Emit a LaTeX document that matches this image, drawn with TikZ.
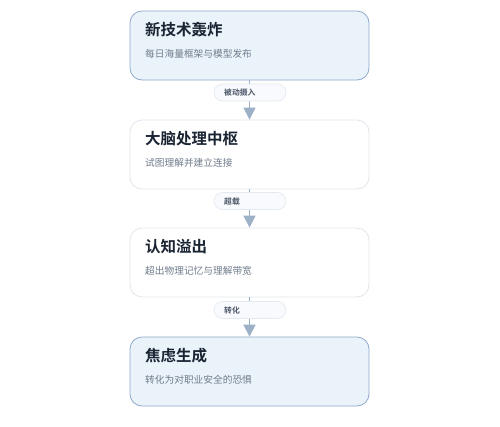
\documentclass[tikz,border=0pt]{standalone}
\usepackage{fontspec}
\setmainfont{Noto Sans CJK SC}
\newfontfamily\cjk{Noto Sans CJK SC}
\newfontfamily\cjkb{Noto Sans CJK SC Bold}
\usetikzlibrary{arrows.meta}
\definecolor{hlfill}{HTML}{EAF2FA}
\definecolor{hlbord}{HTML}{8FAACB}
\definecolor{plbord}{HTML}{E0E6ED}
\definecolor{titlec}{HTML}{1A2433}
\definecolor{subc}{HTML}{707C8C}
\definecolor{arrc}{HTML}{9CB0C8}
\definecolor{pillb}{HTML}{E3E9F0}
\definecolor{pillf}{HTML}{F8FAFD}
\definecolor{labc}{HTML}{4A5566}
\tikzset{
  card/.style={rounded corners=12pt, minimum width=239pt, minimum height=69pt, inner sep=0pt, line width=0.8pt},
  hl/.style={card, draw=hlbord, fill=hlfill},
  pl/.style={card, draw=plbord, fill=white},
  ttl/.style={anchor=west, inner sep=0pt, font=\cjkb\fontsize{15.5}{16}\selectfont, text=titlec},
  sub/.style={anchor=west, inner sep=0pt, font=\cjk\fontsize{9.7}{10}\selectfont, text=subc},
  pill/.style={rounded corners=8.5pt, draw=pillb, fill=pillf, line width=0.6pt, minimum width=72pt, minimum height=17pt, inner sep=0pt},
  plab/.style={anchor=west, inner sep=0pt, font=\cjkb\fontsize{7.8}{8}\selectfont, text=labc},
  conn/.style={draw=arrc, line width=1.2pt, -{Triangle[length=12pt, width=12pt]}},
}
\begin{document}
\begin{tikzpicture}[x=1pt, y=-1pt]
\useasboundingbox (0,0) rectangle (500,426);
\fill[white] (0,0) rectangle (500,426);
% cards
\node[hl] (c1) at (249.5,45.5) {};
\node[pl] (c2) at (249.5,154.5) {};
\node[pl] (c3) at (249.5,262.5) {};
\node[hl] (c4) at (249.5,371.5) {};
% connectors
\draw[conn] (c1.south) -- (c2.north);
\draw[conn] (c2.south) -- (c3.north);
\draw[conn] (c3.south) -- (c4.north);
% pills
\node[pill] (p1) at (250,92.5) {};
\node[pill] (p2) at (250,201) {};
\node[pill] (p3) at (250,310) {};
\node[plab] (l1) at (224,93) {被动摄入};
\node[plab] (l2) at (224,201.5) {超载};
\node[plab] (l3) at (224,310.5) {转化};
% texts
\node[ttl] (t1) at (145,30) {新技术轰炸};
\node[sub] (s1) at (145,54) {每日海量框架与模型发布};
\node[ttl] (t2) at (145,139) {大脑处理中枢};
\node[sub] (s2) at (145,162.5) {试图理解并建立连接};
\node[ttl] (t3) at (145,247) {认知溢出};
\node[sub] (s3) at (145,271) {超出物理记忆与理解带宽};
\node[ttl] (t4) at (145,356) {焦虑生成};
\node[sub] (s4) at (145,380) {转化为对职业安全的恐惧};
\end{tikzpicture}
\end{document}
